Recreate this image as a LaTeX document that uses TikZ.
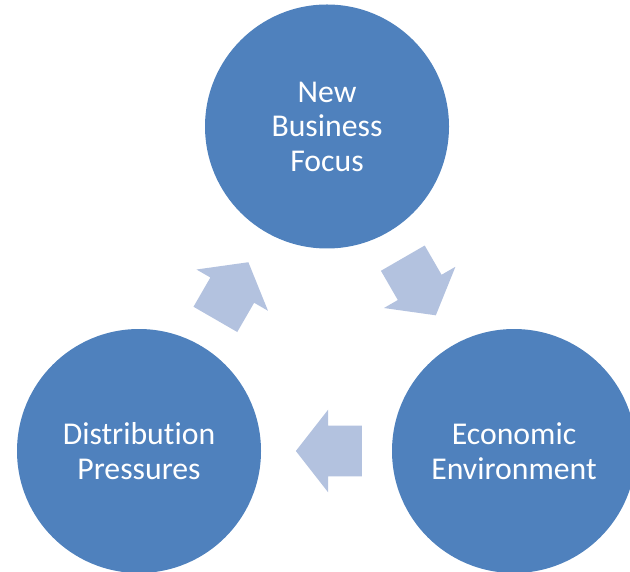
\documentclass[tikz,border=0pt]{standalone}
\usepackage{fontspec}
\setmainfont[Ligatures=NoCommon]{Carlito}
\usetikzlibrary{positioning,calc,shapes.arrows}

\definecolor{stageblue}{HTML}{4F81BD}
\definecolor{arrowblue}{HTML}{B3C2DF}

\tikzset{
  stage/.style={circle, fill=stageblue, text=white, minimum size=183pt,
    inner sep=0pt, align=center, font=\fontsize{23.8}{25.9}\selectfont},
  cyclearrow/.style={single arrow, fill=arrowblue, inner xsep=0pt,
    inner ysep=18.75pt, single arrow head extend=12pt,
    single arrow tip angle=104, minimum height=49.5pt, anchor=tip}
}

\begin{document}
\begin{tikzpicture}[x=0.75pt,y=0.75pt]
  \useasboundingbox (0,0) rectangle (630,571);
  \clip (0,0) rectangle (630,571);
  % the three stages
  \node[stage] (focus) at (327,444.5) {New\\Business\\Focus};
  \node[stage] (economy) at (514,120) {Economic\\Environment};
  \node[stage] (pressures) at (139,120) {Distribution\\Pressures};
  % midpoints between the stages
  \coordinate (m1) at ($(focus)!0.5!(economy)$);
  \coordinate (m2) at ($(economy)!0.5!(pressures)$);
  \coordinate (m3) at ($(pressures)!0.5!(focus)$);
  % arrows, tip half a length past each midpoint
  \node[cyclearrow, rotate=-60] (focustoeco) at ($(m1)!23.25pt!(economy)$) {};
  \node[cyclearrow, rotate=180] (ecotopress) at ($(m2)!23.25pt!(pressures)$) {};
  \node[cyclearrow, rotate=60] (presstofocus) at ($(m3)!23.25pt!(focus)$) {};
\end{tikzpicture}
\end{document}
